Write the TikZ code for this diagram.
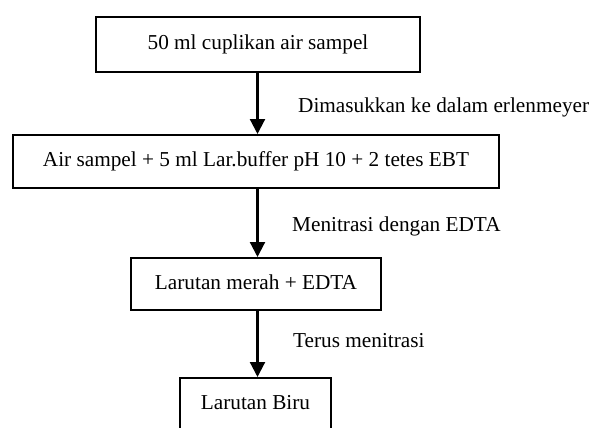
\documentclass[tikz,border=0pt]{standalone}
\usepackage{fontspec}
\setmainfont{Liberation Serif}
\usetikzlibrary{arrows.meta}
\tikzset{
  flowbox/.style={draw=black, line width=2pt, inner sep=0pt, fill=white,
    text height=15pt, text depth=5pt,
    font=\fontsize{21.25}{25}\selectfont},
  steplabel/.style={anchor=base west, inner sep=0pt,
    font=\fontsize{21.25}{25}\selectfont},
  flowarrow/.style={line width=2.2pt, -{Triangle[length=15pt,width=15pt]}}
}
\begin{document}
\begin{tikzpicture}[x=1pt,y=-1pt]
\useasboundingbox (0,0) rectangle (597,428);
\clip (0,0) rectangle (597,428);
\fill[white] (0,0) rectangle (597,428);
\coordinate (axis) at (257.5,0);
\node[flowbox, minimum width=324pt, minimum height=55pt] (b1) at (258,44.5) {50 ml cuplikan air sampel};
\node[flowbox, minimum width=486pt, minimum height=53pt] (b2) at (256,161.5) {Air sampel + 5 ml Lar.buffer pH 10 + 2 tetes EBT};
\node[flowbox, minimum width=250pt, minimum height=52pt] (b3) at (256,284) {Larutan merah + EDTA};
\node[flowbox, minimum width=151pt, minimum height=53pt] (b4) at (255.5,404.5) {Larutan Biru};
\draw[flowarrow] (axis |- b1.south) -- (axis |- b2.north);
\draw[flowarrow] (axis |- b2.south) -- (axis |- b3.north);
\draw[flowarrow] (axis |- b3.south) -- (axis |- b4.north);
\node[steplabel] (l1) at (298,112) {Dimasukkan ke dalam erlenmeyer};
\node[steplabel] (l2) at (292,231) {Menitrasi dengan EDTA};
\node[steplabel] (l3) at (293,347) {Terus menitrasi};
\end{tikzpicture}
\end{document}
